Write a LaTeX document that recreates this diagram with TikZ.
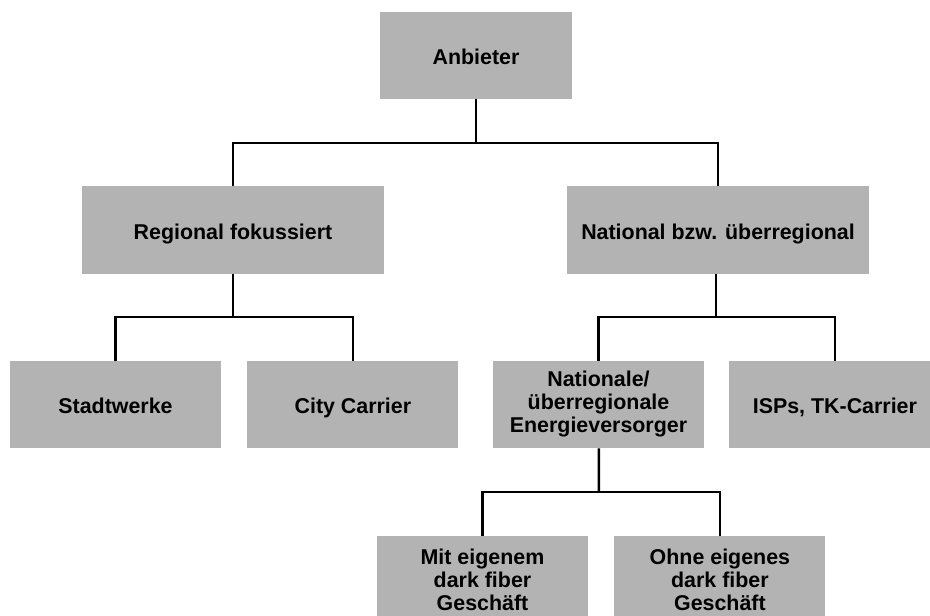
\documentclass[tikz,border=0pt]{standalone}
\usepackage{fontspec}
\setmainfont{Liberation Sans}
\usetikzlibrary{positioning}
\definecolor{boxgray}{RGB}{179,179,179}

\begin{document}
\begin{tikzpicture}[x=1pt, y=-1pt,
                    block/.style={rectangle, fill=boxgray, minimum height=87.5pt, inner sep=0pt,
                                  align=center, font=\fontsize{21.4}{23}\selectfont\bfseries},
                    oneline/.style={text height=19pt, text depth=1pt},
                    wideblock/.style={block, oneline, minimum width=302pt},
                    leafblock/.style={block, minimum width=211pt},
                    link/.style={line width=2.5pt}]
  \useasboundingbox (0,0) rectangle (930,616);
  \node[block, oneline, minimum width=192pt] (anbieter) at (476,55.5) {Anbieter};
   \node[wideblock] (regional) at (233,230) {Regional fokussiert};
   \node[wideblock] (national) at (718,230) {National bzw. überregional};
   \node[leafblock, oneline] (stadtwerke) at (115.5,404.5) {Stadtwerke};
   \node[leafblock, oneline, right=26pt of stadtwerke] (city) {City Carrier};
   \node[leafblock] (energie) at (598.5,404.5) {Nationale/\\überregionale\\Energieversorger};
   \node[leafblock, oneline, right=25pt of energie] (isp) {ISPs, TK-Carrier};
   \node[leafblock] (mitdf) at (482.5,580) {Mit eigenem\\dark fiber\\Geschäft};
   \node[leafblock, right=26pt of mitdf] (ohnedf) {Ohne eigenes\\dark fiber\\Geschäft};
   % joints
   \coordinate (j1) at (476,143);
   \coordinate (j2) at (233,317);
   \coordinate (j3) at (716,317);
   \coordinate (j4) at (599,492);
   \draw[link] (anbieter) -- (j1);
   \draw[link] (regional.north) |- (j1) -| (national.north);
   \draw[link] (regional) -- (j2);
   \draw[link] (stadtwerke.north) |- (j2) -| (city.north);
   \draw[link] (national.south -| j3) -- (j3);
   \draw[link] (energie.north) |- (j3) -| (isp.north);
   \draw[link] (energie) -- (j4);
   \draw[link] (mitdf.north) |- (j4) -| (ohnedf.north);
 \end{tikzpicture}
\end{document}
